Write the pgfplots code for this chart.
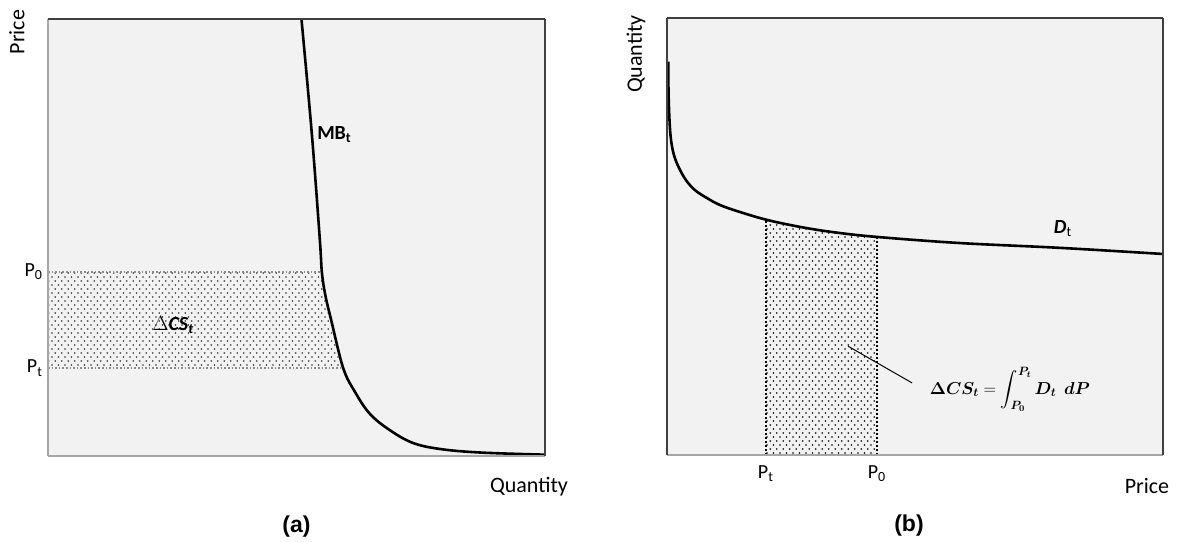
\documentclass[border=0pt]{standalone}
\usepackage{fontspec}
\setmainfont{Carlito}
\newfontfamily\arialfont{Liberation Sans}
\usepackage{amsmath}
\usepackage{pgfplots}
\pgfplotsset{compat=1.18}
\usetikzlibrary{patterns}
\definecolor{bg}{HTML}{F2F2F2}
\definecolor{darkb}{HTML}{404040}
\definecolor{lightb}{HTML}{A6A6A6}
\definecolor{dotgray}{HTML}{8C8C8C}

\pgfdeclarepatternformonly{sparsedots}{\pgfqpoint{-1pt}{-1pt}}{\pgfqpoint{7.5pt}{9pt}}{\pgfqpoint{6.5pt}{8pt}}{
  \pgfpathcircle{\pgfqpoint{0pt}{0pt}}{0.85pt}
  \pgfpathcircle{\pgfqpoint{3.25pt}{4pt}}{0.85pt}
  \pgfusepath{fill}
}

\pgfplotsset{
  panel/.style={
    scale only axis, width=497pt, height=437pt,
    xmin=0, xmax=100, ymin=0, ymax=100,
    axis line style={draw=none},
    axis background/.style={fill=bg},
    tick style={draw=none},
    xtick=\empty, ytick=\empty,
    clip=false,
    ticklabel style={font=\fontsize{20}{24}\selectfont},
  }
}

\pgfplotstableread{
x y
51.0 100
53.1 73.5
54.7 49.4
55.1 42.1
55.8 36.8
57.0 31.0
59.4 20.1
61.8 14.6
64.8 9.6
68.8 5.9
73.4 3.0
78.9 1.6
86.9 0.8
100 0.3
}\mbcurve

\pgfplotstableread{
x y
0.26 90.0
0.30 83.5
0.50 76.7
0.81 72.1
1.41 68.6
2.42 65.7
3.83 62.9
5.65 60.6
8.06 58.8
10.69 57.2
14.72 55.6
20.16 53.8
26.81 52.2
33.47 51.0
42.34 49.9
59.07 48.5
79.23 47.4
100 46.0
}\dcurve

\begin{document}
\begin{tikzpicture}
\useasboundingbox (0pt,0pt) rectangle (1178pt,541pt);

% ---------- panel (a) ----------
\begin{axis}[panel, at={(48pt,85pt)}, anchor=south west,
  ytick={20.1,42.1}, yticklabels={P\textsubscript{t},P\textsubscript{0}},
  yticklabel style={xshift=-2pt}]
  \addplot[draw=none, pattern=sparsedots, pattern color=black!80]
    coordinates {(0,42.1) (55.1,42.1) (55.8,36.8) (57.0,31.0) (59.4,20.1) (0,20.1)} \closedcycle;
  \addplot[dotgray, line width=1.6pt, dotted] coordinates {(0,42.1) (55.1,42.1)};
  \addplot[dotgray, line width=1.6pt, dotted] coordinates {(0,20.1) (59.4,20.1)};
  \addplot[black, line width=2.6pt, smooth, tension=0.6] table[x=x,y=y] {\mbcurve};
  \draw[lightb, line width=2pt] (rel axis cs:0,0) -- (rel axis cs:0,1);
  \draw[lightb, line width=2pt] (rel axis cs:0,0) -- (rel axis cs:1,0);
  \draw[darkb, line width=1.2pt] (rel axis cs:0,1) -- (rel axis cs:1,1);
  \draw[darkb, line width=1.2pt] (rel axis cs:1,0) -- (rel axis cs:1,1);
  \node[font=\fontsize{20}{24}\selectfont\bfseries] at (axis cs:57.6,73.5) {MB\textsubscript{t}};
  \node[font=\fontsize{20}{24}\selectfont] at (axis cs:25.2,30.0)
    {$\Delta$\textbf{\textit{CS}}\textsubscript{\textbf{\textit{t}}}};
  \node[xshift=-31pt, yshift=-13pt, rotate=90, font=\fontsize{22}{26}\selectfont] at (rel axis cs:0,1) {Price};
  \node[xshift=-16pt, yshift=-31pt, font=\fontsize{22}{26}\selectfont] at (rel axis cs:1,0) {Quantity};
  \node[yshift=-71pt, font=\fontsize{23}{27}\selectfont\arialfont\bfseries] at (rel axis cs:0.5,0) {(a)};
\end{axis}

% ---------- panel (b) ----------
\begin{axis}[panel, at={(667pt,86pt)}, anchor=south west, width=496pt,
  xtick={19.9,42.3}, xticklabels={P\textsubscript{t},P\textsubscript{0}},
  xticklabel style={yshift=-7pt}]
  \addplot[draw=none, pattern=sparsedots, pattern color=black]
    coordinates {(19.9,0) (19.9,53.8) (26.81,52.2) (33.47,51.0) (42.3,49.9) (42.3,0)} \closedcycle;
  \addplot[black, line width=2pt, dotted] coordinates {(19.9,0) (19.9,53.8)};
  \addplot[black, line width=2pt, dotted] coordinates {(42.3,0) (42.3,49.9)};
  \addplot[black, line width=2.6pt, smooth, tension=0.6] table[x=x,y=y] {\dcurve};
  \addplot[black, line width=1pt] coordinates {(36.5,24.9) (49.4,16.5)};
  \draw[lightb, line width=2pt] (rel axis cs:0,0) -- (rel axis cs:1,0);
  \draw[darkb, line width=2.6pt] (rel axis cs:0,0) -- (rel axis cs:0,1);
  \draw[darkb, line width=1.8pt] (rel axis cs:0,1) -- (rel axis cs:1,1);
  \draw[darkb, line width=1.8pt] (rel axis cs:1,0) -- (rel axis cs:1,1);
  \node[font=\fontsize{20}{24}\selectfont] at (axis cs:79.8,51.8)
    {\textbf{\textit{D}}\textsubscript{t}};
  \node[font=\fontsize{18}{21}\selectfont, anchor=west] at (axis cs:52.3,15.0)
    {$\boldsymbol{\Delta C S_t} = \displaystyle\int_{\boldsymbol{P_0}}^{\boldsymbol{P_t}} \boldsymbol{D_t}\;\, \boldsymbol{dP}$};
  \node[xshift=-31pt, yshift=-36pt, rotate=90, font=\fontsize{22}{26}\selectfont] at (rel axis cs:0,1) {Quantity};
  \node[xshift=-16pt, yshift=-31pt, font=\fontsize{22}{26}\selectfont] at (rel axis cs:1,0) {Price};
  \node[xshift=-6pt, yshift=-71pt, font=\fontsize{23}{27}\selectfont\arialfont\bfseries] at (rel axis cs:0.5,0) {(b)};
\end{axis}
\end{tikzpicture}
\end{document}
